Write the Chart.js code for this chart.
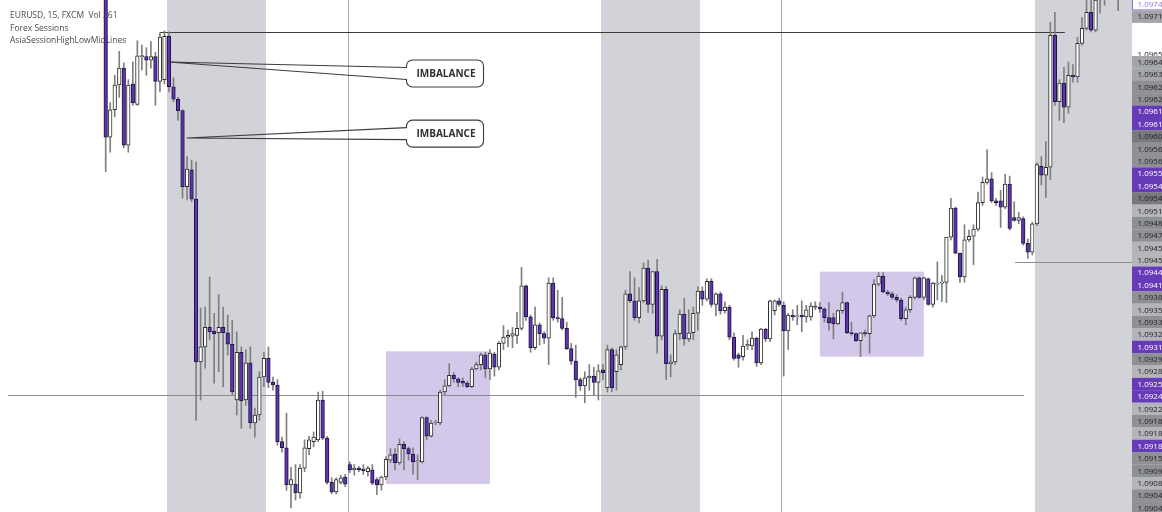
<!DOCTYPE html>
<html>
<head>
<meta charset="utf-8">
<script src="https://cdn.jsdelivr.net/npm/chart.js@4.4.1/dist/chart.umd.min.js"></script>
<style>
  html, body { margin: 0; padding: 0; background: #fff; }
  canvas { display: block; }
</style>
</head>
<body>
<canvas id="eurusdChart" width="1162" height="512"></canvas>
<script>
// EURUSD 15m candles (one entry per bar)
var opens = [1.09761,1.09595,1.09626,1.09654,1.09673,1.09586,1.09655,1.09632,1.09686,1.09686,
  1.09682,1.09686,1.09658,1.09660,1.09709,1.09652,1.09638,1.09625,1.09539,1.09558,
  1.09525,1.09341,1.09358,1.09380,1.09376,1.09374,1.09380,1.09374,1.09361,1.09298,
  1.09352,1.09298,1.09340,1.09272,1.09281,1.09324,1.09345,1.09318,1.09315,1.09251,
  1.09244,1.09202,1.09203,1.09193,1.09221,1.09243,1.09251,1.09253,1.09298,1.09255,
  1.09205,1.09194,1.09205,1.09211,1.09225,1.09219,1.09221,1.09220,1.09217,1.09219,
  1.09208,1.09202,1.09211,1.09230,1.09237,1.09227,1.09248,1.09243,1.09237,1.09228,
  1.09228,1.09278,1.09257,1.09272,1.09272,1.09307,1.09314,1.09326,1.09322,1.09319,
  1.09317,1.09313,1.09333,1.09338,1.09349,1.09333,1.09350,1.09335,1.09362,1.09369,
  1.09370,1.09371,1.09379,1.09427,1.09392,1.09357,1.09383,1.09373,1.09368,1.09430,
  1.09391,1.09390,1.09379,1.09356,1.09342,1.09321,1.09314,1.09323,1.09325,1.09318,
  1.09332,1.09312,1.09355,1.09330,1.09338,1.09358,1.09418,1.09410,1.09391,1.09410,
  1.09447,1.09406,1.09443,1.09370,1.09423,1.09339,1.09341,1.09373,1.09395,1.09367,
  1.09374,1.09396,1.09421,1.09412,1.09432,1.09406,1.09418,1.09399,1.09403,1.09369,
  1.09349,1.09347,1.09359,1.09359,1.09368,1.09340,1.09378,1.09367,1.09399,1.09410,
  1.09405,1.09376,1.09394,1.09392,1.09394,1.09392,1.09392,1.09404,1.09403,1.09401,
  1.09391,1.09391,1.09384,1.09399,1.09408,1.09374,1.09373,1.09365,1.09374,1.09373,
  1.09393,1.09429,1.09438,1.09420,1.09418,1.09414,1.09411,1.09390,1.09400,1.09414,
  1.09436,1.09414,1.09435,1.09406,1.09429,1.09430,1.09431,1.09482,1.09515,1.09464,
  1.09437,1.09479,1.09483,1.09491,1.09521,1.09544,1.09548,1.09523,1.09523,1.09516,
  1.09542,1.09504,1.09501,1.09503,1.09475,1.09465,1.09497,1.09562,1.09552,1.09561,
  1.09710,1.09635,1.09656,1.09629,1.09665,1.09663,1.09701,1.09718,1.09736,1.09716,
  1.09756,1.09759,1.09767,1.09773,1.09778];
var highs = [1.09773,1.09634,1.09665,1.09692,1.09679,1.09660,1.09680,1.09704,1.09699,1.09696,
  1.09703,1.09691,1.09713,1.09715,1.09714,1.09662,1.09640,1.09626,1.09573,1.09569,
  1.09567,1.09402,1.09403,1.09437,1.09396,1.09417,1.09403,1.09394,1.09388,1.09375,
  1.09358,1.09355,1.09358,1.09289,1.09330,1.09352,1.09358,1.09324,1.09321,1.09256,
  1.09283,1.09222,1.09225,1.09225,1.09253,1.09257,1.09262,1.09307,1.09308,1.09257,
  1.09210,1.09210,1.09213,1.09214,1.09228,1.09225,1.09223,1.09225,1.09223,1.09225,
  1.09210,1.09212,1.09234,1.09243,1.09243,1.09254,1.09251,1.09245,1.09244,1.09236,
  1.09279,1.09279,1.09275,1.09275,1.09309,1.09321,1.09339,1.09329,1.09323,1.09323,
  1.09319,1.09335,1.09341,1.09351,1.09352,1.09355,1.09352,1.09364,1.09382,1.09377,
  1.09380,1.09397,1.09448,1.09428,1.09394,1.09403,1.09385,1.09375,1.09436,1.09436,
  1.09422,1.09414,1.09386,1.09362,1.09360,1.09323,1.09330,1.09338,1.09335,1.09338,
  1.09338,1.09360,1.09357,1.09355,1.09359,1.09422,1.09443,1.09436,1.09425,1.09453,
  1.09456,1.09443,1.09457,1.09427,1.09426,1.09349,1.09377,1.09400,1.09413,1.09400,
  1.09403,1.09426,1.09426,1.09435,1.09435,1.09419,1.09420,1.09409,1.09405,1.09374,
  1.09351,1.09371,1.09366,1.09375,1.09369,1.09379,1.09379,1.09411,1.09411,1.09413,
  1.09409,1.09396,1.09400,1.09405,1.09410,1.09405,1.09408,1.09409,1.09408,1.09402,
  1.09408,1.09396,1.09400,1.09420,1.09409,1.09386,1.09374,1.09374,1.09377,1.09394,
  1.09434,1.09442,1.09442,1.09422,1.09420,1.09417,1.09413,1.09403,1.09416,1.09437,
  1.09437,1.09437,1.09436,1.09431,1.09454,1.09439,1.09482,1.09526,1.09516,1.09464,
  1.09496,1.09490,1.09496,1.09533,1.09550,1.09581,1.09555,1.09526,1.09535,1.09553,
  1.09551,1.09522,1.09510,1.09505,1.09480,1.09499,1.09566,1.09573,1.09590,1.09725,
  1.09736,1.09660,1.09674,1.09680,1.09677,1.09708,1.09730,1.09756,1.09756,1.09761,
  1.09773,1.09778,1.09784,1.09790,1.09790];
var lows = [1.09556,1.09578,1.09618,1.09640,1.09583,1.09578,1.09631,1.09631,1.09671,1.09665,
  1.09673,1.09631,1.09646,1.09655,1.09646,1.09635,1.09614,1.09526,1.09524,1.09522,
  1.09275,1.09298,1.09334,1.09366,1.09317,1.09330,1.09313,1.09349,1.09304,1.09281,
  1.09266,1.09292,1.09266,1.09256,1.09275,1.09313,1.09312,1.09309,1.09247,1.09239,
  1.09196,1.09176,1.09185,1.09187,1.09217,1.09236,1.09245,1.09251,1.09253,1.09203,
  1.09192,1.09192,1.09203,1.09200,1.09216,1.09213,1.09217,1.09214,1.09212,1.09202,
  1.09191,1.09196,1.09208,1.09227,1.09219,1.09225,1.09219,1.09230,1.09214,1.09208,
  1.09227,1.09253,1.09256,1.09270,1.09270,1.09304,1.09313,1.09318,1.09313,1.09313,
  1.09312,1.09312,1.09332,1.09332,1.09323,1.09321,1.09325,1.09332,1.09355,1.09358,
  1.09357,1.09362,1.09377,1.09388,1.09352,1.09355,1.09360,1.09362,1.09338,1.09388,
  1.09386,1.09377,1.09355,1.09338,1.09301,1.09309,1.09295,1.09309,1.09304,1.09298,
  1.09321,1.09307,1.09307,1.09309,1.09332,1.09355,1.09408,1.09388,1.09385,1.09408,
  1.09397,1.09396,1.09351,1.09366,1.09321,1.09324,1.09338,1.09366,1.09360,1.09364,
  1.09366,1.09377,1.09405,1.09410,1.09403,1.09393,1.09395,1.09396,1.09366,1.09343,
  1.09335,1.09343,1.09355,1.09355,1.09336,1.09338,1.09364,1.09364,1.09394,1.09404,
  1.09325,1.09355,1.09388,1.09383,1.09375,1.09386,1.09388,1.09400,1.09397,1.09386,
  1.09377,1.09367,1.09383,1.09396,1.09373,1.09371,1.09364,1.09347,1.09370,1.09351,
  1.09391,1.09427,1.09419,1.09416,1.09412,1.09409,1.09388,1.09383,1.09397,1.09412,
  1.09413,1.09411,1.09405,1.09403,1.09411,1.09409,1.09408,1.09479,1.09463,1.09431,
  1.09431,1.09477,1.09451,1.09489,1.09518,1.09542,1.09521,1.09518,1.09493,1.09514,
  1.09490,1.09500,1.09497,1.09473,1.09458,1.09462,1.09495,1.09541,1.09527,1.09547,
  1.09631,1.09614,1.09611,1.09622,1.09657,1.09657,1.09699,1.09716,1.09714,1.09714,
  1.09735,1.09744,1.09752,1.09756,1.09738];
var closes = [1.09595,1.09626,1.09654,1.09673,1.09586,1.09654,1.09634,1.09687,1.09687,1.09682,
  1.09686,1.09658,1.09708,1.09709,1.09652,1.09638,1.09625,1.09539,1.09559,1.09525,
  1.09341,1.09358,1.09380,1.09375,1.09373,1.09380,1.09374,1.09361,1.09307,1.09352,
  1.09297,1.09340,1.09272,1.09281,1.09324,1.09345,1.09318,1.09315,1.09251,1.09244,
  1.09202,1.09208,1.09193,1.09221,1.09244,1.09253,1.09256,1.09298,1.09255,1.09205,
  1.09194,1.09208,1.09210,1.09203,1.09219,1.09221,1.09219,1.09218,1.09221,1.09204,
  1.09202,1.09211,1.09231,1.09236,1.09227,1.09248,1.09243,1.09237,1.09228,1.09229,
  1.09278,1.09257,1.09272,1.09273,1.09307,1.09314,1.09326,1.09322,1.09318,1.09317,
  1.09313,1.09333,1.09338,1.09349,1.09333,1.09351,1.09335,1.09362,1.09369,1.09371,
  1.09373,1.09379,1.09427,1.09392,1.09357,1.09383,1.09373,1.09368,1.09430,1.09391,
  1.09390,1.09379,1.09356,1.09342,1.09321,1.09314,1.09323,1.09325,1.09318,1.09331,
  1.09329,1.09355,1.09312,1.09349,1.09358,1.09418,1.09410,1.09391,1.09410,1.09447,
  1.09406,1.09443,1.09370,1.09423,1.09339,1.09341,1.09373,1.09395,1.09367,1.09374,
  1.09396,1.09421,1.09412,1.09432,1.09406,1.09418,1.09399,1.09403,1.09369,1.09345,
  1.09345,1.09359,1.09361,1.09368,1.09340,1.09378,1.09367,1.09410,1.09410,1.09406,
  1.09376,1.09394,1.09392,1.09393,1.09392,1.09400,1.09404,1.09403,1.09401,1.09391,
  1.09385,1.09384,1.09399,1.09408,1.09374,1.09373,1.09365,1.09374,1.09373,1.09393,
  1.09429,1.09438,1.09420,1.09418,1.09414,1.09411,1.09390,1.09400,1.09414,1.09436,
  1.09414,1.09436,1.09406,1.09430,1.09430,1.09431,1.09482,1.09515,1.09464,1.09437,
  1.09479,1.09483,1.09491,1.09521,1.09544,1.09548,1.09523,1.09521,1.09516,1.09542,
  1.09492,1.09501,1.09504,1.09475,1.09465,1.09497,1.09564,1.09552,1.09561,1.09710,
  1.09635,1.09656,1.09629,1.09665,1.09663,1.09701,1.09718,1.09736,1.09716,1.09750,
  1.09759,1.09767,1.09773,1.09778,1.09770];

// session / drawing annotations, in bar index and price
var asiaSessions = [[13.5, 35.5], [109.5, 131.5], [205.5, 230]];
var dayLines = [53.5, 149.5];
var zones = [[62, 85, 1.09353, 1.09203], [158, 181, 1.09443, 1.09347]];
var levels = [[12, 212.2, 1.09714], [-21.6, 203.2, 1.09304], [201.2, 230, 1.09454]];
var callouts = [
  { text: 'IMBALANCE', anchor: [13.85, 1.09680], box: [75.07, 1.09667] },
  { text: 'IMBALANCE', anchor: [17.92, 1.09594], box: [75.07, 1.09599] }
];
var headerLines = ['EURUSD, 15, FXCM  Vol 261', 'Forex Sessions', 'AsiaSessionHighLowMidLines'];

// stacked price labels on the right scale
var scaleLabels = ['1.0974','1.0971','1.0965','1.0964','1.0963','1.0962','1.0962','1.0961','1.0961','1.0960',
  '1.0956','1.0956','1.0955','1.0954','1.0954','1.0951','1.0948','1.0947','1.0945','1.0945',
  '1.0944','1.0941','1.0938','1.0935','1.0933','1.0932','1.0931','1.0929','1.0928','1.0925',
  '1.0924','1.0922','1.0918','1.0918','1.0918','1.0915','1.0909','1.0908','1.0904','1.0904'];
var scaleKinds = ['o','g','w','g','g','m','m','p','p','d',
  'm','m','p','p','d','l','m','m','l','l',
  'p','p','m','l','m','l','p','m','l','p',
  'p','l','m','l','p','m','m','l','m','m'];

var PURPLE = '#5e35b1';
var kindFill = { o: '#ffffff', w: '#ffffff', g: '#a3a5ab', m: '#8e9096', d: '#77797f', l: '#b3b5ba', p: '#673ab7' };

var idx = opens.map(function(_, i) { return i; });
var wickData = idx.map(function(i) { return { x: i, y: [lows[i], highs[i]] }; });
var bodyData = idx.map(function(i) { return { x: i, y: [opens[i], closes[i]] }; });
var bodyColors = idx.map(function(i) { return closes[i] >= opens[i] ? '#ffffff' : PURPLE; });
var bodyBorders = idx.map(function(i) { return closes[i] >= opens[i] ? '#2e2e2e' : '#1f1440'; });

var backdrop = {
  id: 'backdrop',
  beforeDatasetsDraw: function(chart) {
    var ctx = chart.ctx, a = chart.chartArea, xs = chart.scales.x, ys = chart.scales.y;
    ctx.save();
    ctx.beginPath();
    ctx.rect(a.left, a.top, a.right - a.left, a.bottom - a.top);
    ctx.clip();

    ctx.fillStyle = '#d1d3d8';
    asiaSessions.forEach(function(s) {
      var x0 = Math.round(xs.getPixelForValue(s[0])), x1 = Math.round(xs.getPixelForValue(s[1]));
      ctx.fillRect(x0, a.top, x1 - x0, a.bottom - a.top);
    });

    ctx.fillStyle = '#d3c8ea';
    zones.forEach(function(z) {
      var x0 = xs.getPixelForValue(z[0]), x1 = xs.getPixelForValue(z[1]);
      var y0 = ys.getPixelForValue(z[2]), y1 = ys.getPixelForValue(z[3]);
      ctx.fillRect(x0, y0, x1 - x0, y1 - y0);
    });

    ctx.strokeStyle = '#a9abb0';
    ctx.lineWidth = 1;
    dayLines.forEach(function(d) {
      var x = Math.round(xs.getPixelForValue(d)) + 0.5;
      ctx.beginPath(); ctx.moveTo(x, a.top); ctx.lineTo(x, a.bottom); ctx.stroke();
    });

    // header text (candles are drawn over it)
    ctx.fillStyle = '#4a4a4a';
    ctx.font = '8.5px "Open Sans", sans-serif';
    ctx.textBaseline = 'middle';
    headerLines.forEach(function(t, k) { ctx.fillText(t, 10, 15.5 + k * 12.7); });

    levels.forEach(function(l, k) {
      var y = Math.round(ys.getPixelForValue(l[2])) + 0.5;
      ctx.strokeStyle = k === 0 ? '#3a3a3a' : '#8a8c90';
      ctx.lineWidth = k === 0 ? 1.2 : 1;
      ctx.beginPath();
      ctx.moveTo(xs.getPixelForValue(l[0]), y);
      ctx.lineTo(xs.getPixelForValue(l[1]), y);
      ctx.stroke();
    });
    ctx.restore();
  },
  afterDatasetsDraw: function(chart) {
    var ctx = chart.ctx, xs = chart.scales.x, ys = chart.scales.y;
    ctx.save();
    callouts.forEach(function(c) {
      var ax = xs.getPixelForValue(c.anchor[0]), ay = ys.getPixelForValue(c.anchor[1]);
      var cx = xs.getPixelForValue(c.box[0]), cy = ys.getPixelForValue(c.box[1]);
      var w = 77, h = 27, left = cx - w / 2, top = cy - h / 2;
      ctx.fillStyle = '#ffffff';
      ctx.strokeStyle = '#3c3c3c';
      ctx.lineWidth = 1.1;
      ctx.beginPath();
      ctx.roundRect(left, top, w, h, 6);
      ctx.fill();
      ctx.stroke();
      // opening of the pointer
      ctx.strokeStyle = '#ffffff';
      ctx.lineWidth = 2;
      ctx.beginPath(); ctx.moveTo(left, cy - 5.5); ctx.lineTo(left, cy + 5.5); ctx.stroke();
      ctx.strokeStyle = '#3c3c3c';
      ctx.lineWidth = 1.1;
      ctx.beginPath();
      ctx.moveTo(left, cy - 6); ctx.lineTo(ax, ay); ctx.lineTo(left, cy + 6);
      ctx.stroke();
      ctx.fillStyle = '#2f2f2f';
      ctx.font = 'bold 10px "Open Sans", sans-serif';
      ctx.textAlign = 'center';
      ctx.textBaseline = 'middle';
      ctx.fillText(c.text, cx + 1, cy + 0.5);
    });
    ctx.restore();
  },
  afterDraw: function(chart) {
    var ctx = chart.ctx, a = chart.chartArea;
    var rowH = 12.38;
    ctx.save();
    ctx.font = '8px "Open Sans", sans-serif';
    ctx.textBaseline = 'middle';
    scaleLabels.forEach(function(t, k) {
      var top = k === 0 ? -2 : k === 1 ? 10.3 : k === 2 ? 48 : 56 + (k - 3) * rowH;
      var kind = scaleKinds[k];
      ctx.fillStyle = kindFill[kind];
      ctx.fillRect(a.right, top, 40, rowH + 0.2);
      if (kind === 'o') {
        ctx.strokeStyle = '#8e6fd4';
        ctx.lineWidth = 1;
        ctx.strokeRect(a.right + 0.5, top + 0.5, 40, rowH - 1);
      }
      ctx.fillStyle = kind === 'p' ? '#ffffff' : kind === 'o' ? '#8e6fd4' : '#1e1e1e';
      ctx.fillText(t, a.right + 5.5, top + rowH / 2 + 0.5);
    });
    ctx.restore();
  }
};

new Chart(document.getElementById('eurusdChart'), {
  type: 'bar',
  data: {
    datasets: [
      {
        data: wickData,
        backgroundColor: '#7f7f7f',
        barThickness: 1,
        grouped: false,
        order: 2
      },
      {
        data: bodyData,
        backgroundColor: bodyColors,
        borderColor: bodyBorders,
        borderWidth: 1,
        borderSkipped: false,
        barThickness: 3.6,
        minBarLength: 1,
        grouped: false,
        order: 1
      }
    ]
  },
  options: {
    responsive: false,
    animation: false,
    layout: { padding: { left: 0, right: 30, top: 0, bottom: 0 } },
    plugins: { legend: { display: false }, tooltip: { enabled: false } },
    scales: {
      x: { type: 'linear', min: -23.385, max: 227.06, offset: false, display: false },
      y: { min: 1.0917144, max: 1.0975, display: false }
    }
  },
  plugins: [backdrop]
});
</script>
</body>
</html>
